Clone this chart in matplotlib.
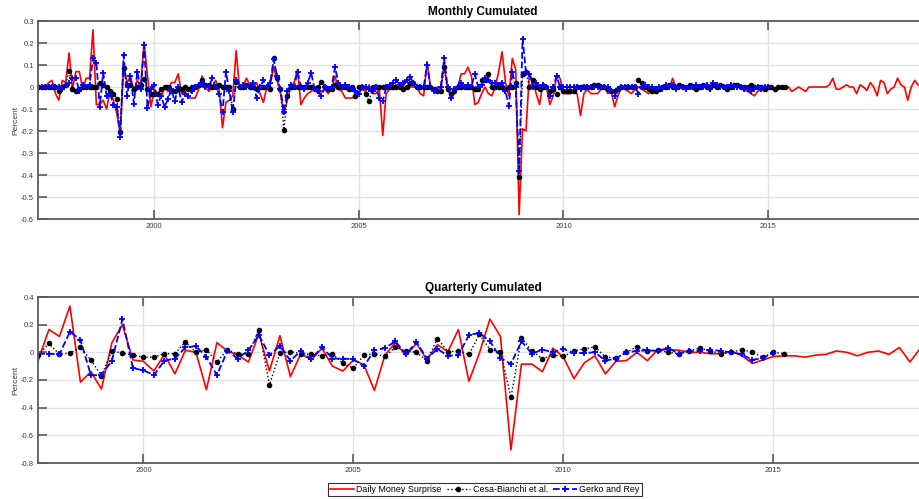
import numpy as np
import matplotlib
matplotlib.use("Agg")
import matplotlib.pyplot as plt

plt.rcParams['font.family'] = ['Liberation Sans', 'DejaVu Sans']

# monthly series, first observation March 1997
month_start = 1997 + 2 / 12

daily_money_m = [
    0, 0, 0, 0.02, 0.03, -0.03, -0.06, 0.03, 0.02, 0.155,                       # 1997
    -0.01, 0.07, 0.07, -0.01, 0.04, 0.04, 0.26, -0.08, -0.08, -0.06, -0.10, -0.02,  # 1998
    -0.06, -0.12, -0.21, 0.10, 0.02, 0.05, -0.02, 0.03, 0.0, 0.205, 0.05, -0.09,    # 1999
    -0.01, -0.03, -0.05, 0.0, -0.02, 0.02, 0.02, 0.06, -0.03, -0.02, -0.05, -0.05,  # 2000
    -0.05, -0.01, 0.05, 0.0, -0.02, 0.0, 0.03, -0.01, -0.185, -0.07, -0.06, -0.04,  # 2001
    0.165, -0.01, 0.0, 0.04, 0.01, 0.0, 0.02, -0.03, -0.07, 0.0, 0.01, 0.09,        # 2002
    0.03, -0.03, -0.12, -0.06, 0.0, 0.02, 0.08, -0.08, -0.05, -0.03, -0.02, -0.01,  # 2003
    -0.03, -0.02, -0.01, -0.03, -0.01, 0.05, -0.01, -0.02, -0.05, -0.05, -0.05, -0.04,  # 2004
    -0.02, -0.01, -0.02, 0.01, -0.03, -0.03, -0.01, -0.22, -0.03, -0.01, 0.0, 0.01,  # 2005
    -0.01, 0.0, 0.03, 0.0, 0.0, 0.0, -0.03, -0.04, 0.115, 0.0, -0.01, 0.0,          # 2006
    -0.01, 0.1, -0.01, -0.04, -0.03, 0.0, 0.06, 0.06, 0.09, 0.05, -0.08, -0.07,     # 2007
    -0.03, 0.0, -0.03, -0.04, 0.0, 0.07, 0.16, 0.02, -0.04, 0.13, 0.08, -0.58,      # 2008
    -0.19, -0.2, 0.06, 0.03, -0.03, -0.08, 0.02, 0.0, -0.08, -0.04, 0.05, 0.04,     # 2009
    -0.03, -0.03, -0.03, -0.02, -0.03, -0.13, -0.03, -0.01, -0.03, -0.03, -0.03, -0.01,  # 2010
    0.0, -0.03, -0.02, -0.09, -0.04, 0.0, -0.01, -0.02, -0.03, -0.01, 0.0, -0.01,   # 2011
    -0.02, -0.03, -0.02, 0.0, -0.01, 0.0, 0.0, -0.01, 0.04, 0.0, -0.01, 0.01,       # 2012
    -0.01, 0.0, 0.0, 0.01, 0.0, 0.0, 0.0, -0.02, 0.01, 0.01, 0.0, 0.0,              # 2013
    0.0, -0.01, 0.0, 0.0, 0.0, -0.015, -0.02, -0.03, -0.04, -0.02, -0.01, -0.02,    # 2014
    -0.01, 0.0, -0.02, 0.0, 0.0, 0.0, 0.0, -0.02, -0.01, 0.0, -0.01, -0.02,         # 2015
    0.0, 0.0, 0.0, 0.0, 0.0, 0.0, 0.01, 0.04, -0.01, -0.01, 0.0, 0.01,              # 2016
    0.0, 0.0, -0.03, 0.01, 0.0, -0.015, 0.02, 0.0, -0.04, 0.03, 0.02, -0.03,        # 2017
    -0.01, 0.0, 0.04, 0.01, 0.0, -0.06, 0.0, 0.03, 0.01, 0.0, -0.01, 0.0,           # 2018
]

cesa_bianchi_m = [
    0, 0, 0, 0, 0, 0, -0.02, 0.0, 0.01, 0.075,
    -0.01, -0.02, -0.01, 0.0, 0.0, 0.0, 0.0, 0.0, 0.02, 0.01, 0.0, -0.02,
    -0.03, -0.055, -0.205, 0.085, 0.01, 0.01, -0.01, 0.0, 0.01, 0.035, -0.01, -0.03,
    -0.03, -0.03, -0.01, 0.0, 0.0, -0.02, -0.02, -0.01, -0.01, 0.0, -0.01, 0.0,
    0.0, 0.01, 0.03, 0.01, 0.01, 0.0, 0.0, 0.01, 0.0, 0.0, 0.0, -0.1,
    0.025, 0.0, 0.0, 0.01, 0.0, 0.0, -0.01, 0.0, 0.0, 0.0, -0.01, 0.13,
    0.04, -0.01, -0.195, -0.04, 0.0, 0.0, 0.0, 0.0, 0.0, 0.0, 0.0, -0.01,
    0.0, 0.025, 0.0, -0.01, -0.01, 0.01, 0.0, 0.0, 0.0, -0.01, 0.0, -0.04,
    0.0, 0.0, -0.03, -0.065, 0.0, 0.0, 0.0, 0.0, 0.0, 0.0, 0.0, 0.0,
    0.0, -0.01, 0.0, 0.02, 0.02, 0.0, 0.0, 0.0, 0.0, 0.0, -0.01, -0.02,
    -0.02, 0.09, -0.01, -0.03, -0.02, 0.0, 0.0, 0.0, 0.0, 0.0, -0.01, -0.01,
    0.03, 0.03, 0.06, 0.0, 0.0, 0.0, 0.0, -0.01, 0.0, 0.0, 0.02, -0.41,
    0.06, 0.07, 0.0, 0.03, 0.0, -0.01, 0.0, 0.0, -0.02, -0.01, -0.03, 0.0,
    -0.02, -0.02, -0.02, -0.02, 0.0, 0.0, 0.0, 0.0, 0.0, 0.01, 0.01, 0.0,
    0.0, -0.01, -0.02, -0.02, -0.01, 0.0, 0.0, 0.0, 0.0, 0.0, 0.03, 0.02,
    0.0, -0.01, -0.02, -0.02, -0.01, 0.0, 0.0, 0.01, 0.0, 0.0, 0.01, 0.0,
    0.0, 0.01, 0.0, -0.01, 0.0, 0.01, 0.0, 0.0, 0.01, 0.0, 0.01, 0.0,
    -0.01, 0.0, 0.01, 0.01, 0.0, 0.0, 0.0, 0.01, 0.0, 0.0, 0.0, -0.01,
    0.0, 0.0, -0.01, 0.0, 0.0, 0.0,
]

gerko_rey_m = [
    0, 0, 0, 0, 0, 0, 0.0, -0.01, 0.01, 0.02,
    0.04, 0.04, -0.02, 0.01, 0.0, 0.01, 0.13, 0.11, -0.09, 0.065, -0.04, -0.03,
    -0.08, -0.09, -0.225, 0.145, -0.04, 0.05, -0.075, 0.07, -0.01, 0.19, -0.095, -0.01,
    0.01, -0.08, -0.04, -0.09, -0.055, -0.01, -0.065, 0.0, -0.07, -0.03, -0.04, -0.02,
    0.0, 0.01, 0.02, 0.0, 0.0, 0.04, 0.0, -0.03, -0.115, 0.07, -0.02, -0.115,
    0.03, 0.0, 0.01, 0.0, 0.0, 0.02, -0.05, 0.0, 0.03, 0.0, 0.02, 0.125,
    0.05, -0.01, -0.115, -0.02, 0.01, 0.0, 0.07, 0.0, -0.01, 0.02, 0.065, -0.01,
    -0.02, -0.04, 0.0, -0.01, 0.0, 0.09, 0.02, 0.0, 0.01, 0.0, -0.01, -0.02,
    -0.03, 0.0, 0.0, -0.01, -0.02, 0.0, -0.05, -0.065, 0.0, 0.01, 0.02, 0.03,
    0.01, 0.02, 0.03, 0.045, 0.02, 0.0, 0.0, 0.0, 0.1, 0.0, -0.02, -0.02,
    0.0, 0.13, 0.0, -0.05, -0.01, 0.0, 0.02, 0.0, 0.01, 0.0, 0.06, 0.0,
    0.01, 0.04, 0.03, 0.02, 0.02, 0.01, 0.02, -0.02, -0.085, 0.07, 0.0, -0.38,
    0.22, 0.07, 0.06, 0.0, 0.02, 0.0, 0.01, 0.0, -0.04, 0.0, 0.05, 0.0,
    0.0, 0.0, 0.0, 0.0, 0.0, -0.01, 0.0, 0.0, 0.0, 0.0, 0.0, 0.0,
    0.0, 0.0, -0.02, -0.04, -0.01, 0.0, 0.0, 0.0, 0.0, 0.0, -0.03, 0.0,
    0.01, 0.0, 0.0, -0.01, 0.0, -0.01, 0.01, 0.0, 0.01, -0.01, 0.0, 0.0,
    -0.01, 0.0, 0.0, 0.01, 0.0, 0.0, 0.01, -0.01, 0.02, 0.01, 0.0, 0.0,
    0.0, 0.01, 0.0, 0.0, 0.0, -0.01, -0.01, -0.02, -0.01, 0.0, -0.01, 0.0,
    0.0,
]

# quarterly series, first observation 1997Q3
quarter_start = 1997.5

daily_money_q = [
    -0.055, 0.165, 0.115, 0.335, -0.215, -0.14, -0.265, 0.07, 0.2, -0.055,
    -0.065, -0.135, -0.015, -0.155, 0.015, 0.0, -0.27, 0.07, 0.01, -0.02,
    -0.07, 0.135, -0.135, 0.12, -0.175, -0.01, -0.055, 0.03, -0.1, -0.135,
    -0.055, -0.09, -0.275, -0.02, 0.07, -0.025, 0.065, -0.055, 0.055, 0.005,
    0.165, -0.21, -0.005, 0.24, 0.115, -0.705, -0.085, -0.085, -0.14, 0.03,
    -0.035, -0.19, -0.075, -0.025, -0.155, -0.065, -0.06, 0.0, -0.06, 0.02,
    0.02, 0.015, 0.0, 0.0, -0.01, -0.01, 0.01, -0.025, -0.08, -0.055,
    -0.03, -0.025, -0.025, -0.035, -0.02, -0.015, 0.01, 0.0, -0.025, 0.0,
    0.01, -0.015, 0.035, -0.07, 0.03,
]

cesa_bianchi_q = [
    -0.02, 0.065, -0.015, -0.005, 0.035, -0.055, -0.17, 0.01, -0.005, -0.02,
    -0.035, -0.035, -0.01, -0.01, 0.075, 0.0, 0.02, -0.07, 0.02, -0.015,
    -0.01, 0.165, -0.235, -0.005, 0.005, -0.01, -0.015, -0.025, -0.01, -0.08,
    -0.115, -0.02, -0.01, -0.03, 0.035, 0.01, 0.0, -0.06, 0.1, 0.005,
    0.01, -0.015, 0.13, 0.02, 0.005, -0.325, 0.105, 0.01, -0.045, -0.02,
    -0.03, 0.01, 0.025, 0.04, -0.035, -0.04, 0.0, 0.04, 0.01, 0.015,
    0.0, -0.01, 0.01, 0.03, 0.01, -0.01, 0.0, 0.02, 0.0, -0.035,
    0.0, -0.01,
]

gerko_rey_q = [
    -0.01, -0.01, -0.015, 0.15, 0.09, -0.165, -0.165, -0.06, 0.24, -0.115,
    -0.13, -0.165, -0.06, -0.045, 0.035, 0.045, -0.035, -0.165, 0.01, -0.045,
    0.015, 0.125, -0.02, 0.045, -0.06, 0.01, -0.05, 0.04, -0.045, -0.045,
    -0.05, -0.1, 0.015, 0.03, 0.08, -0.015, 0.075, -0.045, 0.025, -0.025,
    -0.02, 0.125, 0.14, 0.08, -0.04, -0.085, 0.08, -0.01, 0.02, 0.0,
    0.025, -0.005, -0.005, 0.0, -0.06, -0.045, 0.0, 0.01, 0.015, 0.01,
    0.03, -0.01, 0.01, 0.01, 0.02, 0.01, 0.0, -0.015, -0.055, -0.04,
    -0.005,
]

labels = ['Daily Money Surprise', 'Cesa-Bianchi et al.', 'Gerko and Rey']
year_ticks = [2000, 2005, 2010, 2015]

edge = '#5a5a5a'
grid_col = '#e2e2e2'


def decimal_dates(start, step, values):
    return start + np.arange(len(values)) * step


def style_axes(ax, yticks):
    ax.set_xticks(year_ticks)
    ax.set_xticklabels([str(y) for y in year_ticks])
    ax.set_yticks(yticks)
    ax.set_yticklabels(['0' if abs(v) < 1e-9 else f'{v:g}' for v in yticks])
    ax.grid(True, color=grid_col, linewidth=1.0)
    ax.set_axisbelow(True)
    ax.tick_params(direction='in', length=6.5, width=1.2, color=edge,
                   labelsize=5.5, labelcolor='#3a3a3a', top=True, right=True, pad=3)
    for s in ax.spines.values():
        s.set_color(edge)
        s.set_linewidth(1.3)
    ax.set_ylabel('Percent', fontsize=6, color='#3a3a3a', labelpad=1)


def draw(ax, start, step, red, black, blue):
    ax.plot(decimal_dates(start, step, red), red, color='red', lw=1.2)
    ax.plot(decimal_dates(start, step, black), black, color='black', ls=':', lw=1.0,
            marker='o', markersize=3.0, markerfacecolor='black')
    ax.plot(decimal_dates(start, step, blue), blue, color='blue', ls='--', lw=1.3,
            marker='+', markersize=3.8, markeredgewidth=1.3)


fig = plt.figure(figsize=(9.2, 4.99), dpi=100)

ax1 = fig.add_axes([38 / 920, 1 - 219 / 499, 890 / 920, 198 / 499])
draw(ax1, month_start, 1 / 12, daily_money_m, cesa_bianchi_m, gerko_rey_m)
ax1.set_xlim(1997.157, 2018.91)
ax1.set_ylim(-0.6, 0.3)
style_axes(ax1, np.round(np.arange(-0.6, 0.31, 0.1), 1))
ax1.set_title('Monthly Cumulated', fontsize=8.5, fontweight='bold', pad=4)

ax2 = fig.add_axes([38 / 920, 1 - 463 / 499, 890 / 920, 166 / 499])
draw(ax2, quarter_start, 0.25, daily_money_q, cesa_bianchi_q, gerko_rey_q)
ax2.set_xlim(1997.49, 2018.68)
ax2.set_ylim(-0.8, 0.4)
style_axes(ax2, np.round(np.arange(-0.8, 0.41, 0.2), 1))
ax2.set_title('Quarterly Cumulated', fontsize=8.5, fontweight='bold', pad=4)

leg = fig.legend(ax2.get_lines(), labels, loc='center', bbox_to_anchor=(485 / 920, 1 - 489.5 / 499),
                 ncol=3, fontsize=6.4, frameon=True, fancybox=False, handlelength=2.6,
                 columnspacing=0.6, handletextpad=0.3, borderpad=0.25, borderaxespad=0)
leg.get_frame().set_edgecolor('black')
leg.get_frame().set_linewidth(0.8)

fig.savefig('out.png', dpi=100)
